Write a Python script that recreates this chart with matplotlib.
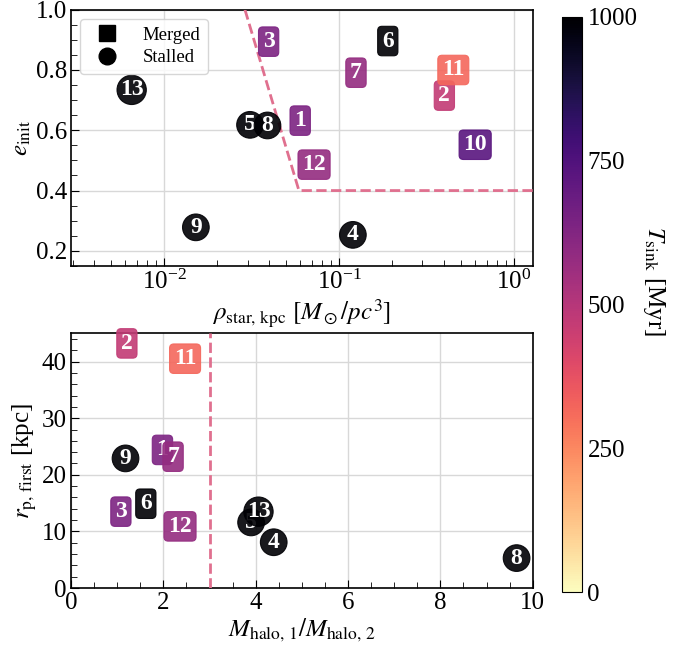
import numpy as np
import matplotlib
matplotlib.use("Agg")
import matplotlib.pyplot as plt
from matplotlib.lines import Line2D

plt.rcParams['font.family'] = 'serif'
plt.rcParams['font.serif'] = ['Liberation Serif', 'DejaVu Serif']
plt.rcParams['mathtext.fontset'] = 'stix'

# runs 1..13
ids = [1, 2, 3, 4, 5, 6, 7, 8, 9, 10, 11, 12, 13]
merged = [True, True, True, False, False, True, True, False, False, True, True, True, False]
tsink = [640, 470, 640, 1000, 1000, 1000, 580, 1000, 1000, 730, 320, 580, 1000]

rho = [0.060, 0.40, 0.0396, 0.12, 0.031, 0.19, 0.125, 0.039, 0.0152, 0.60, 0.45, 0.072, 0.00653]
e_init = [0.632, 0.715, 0.894, 0.253, 0.618, 0.896, 0.791, 0.616, 0.278, 0.552, 0.80, 0.486, 0.734]

# run 10 not shown in the lower panel
mratio = [1.98, 1.21, 1.08, 4.39, 3.90, 1.62, 2.21, 9.65, 1.18, None, 2.47, 2.36, 4.06]
rp = [24.4, 43.2, 13.5, 8.1, 11.6, 14.9, 23.2, 5.3, 22.9, None, 40.5, 10.9, 13.5]

# dividing lines
cut_rho = [0.029, 0.059, 1.5]
cut_e = [1.0, 0.4, 0.4]
cut_q = 3.0

cmap = plt.get_cmap('magma_r')
norm = matplotlib.colors.Normalize(vmin=0, vmax=1000)
dash_col = '#e0708f'

fig = plt.figure(figsize=(6.83, 6.47), dpi=100)
ax1 = fig.add_axes([0.104, 0.589, 0.676, 0.396])
ax2 = fig.add_axes([0.104, 0.091, 0.676, 0.394])
cax = fig.add_axes([0.823, 0.085, 0.029, 0.889])


def label(ax, x, y, i, m, t):
    box = 'round,pad=0.18' if m else 'circle,pad=0.12'
    c = cmap(norm(t))
    ax.text(x, y, str(i), color='white', fontsize=17, fontweight='bold',
            ha='center', va='center', zorder=5,
            bbox=dict(boxstyle=box, fc=c, ec=c, alpha=0.9, lw=0.8))


for k in range(len(ids)):
    label(ax1, rho[k], e_init[k], ids[k], merged[k], tsink[k])
    if mratio[k] is not None:
        label(ax2, mratio[k], rp[k], ids[k], merged[k], tsink[k])

ax1.plot(cut_rho, cut_e, '--', color=dash_col, lw=2, zorder=3)
ax2.axvline(cut_q, ls='--', color=dash_col, lw=2, zorder=3)

ax1.set_xscale('log')
ax1.set_xlim(0.00294, 1.28)
ax1.set_ylim(0.15, 1.0)
ax1.set_yticks([0.2, 0.4, 0.6, 0.8, 1.0])
ax1.yaxis.set_minor_locator(matplotlib.ticker.MultipleLocator(0.05))
ax1.set_xlabel(r'$\rho_{\rm star,\,kpc}\ [M_\odot/pc^3]$', fontsize=18, labelpad=2)
ax1.set_ylabel(r'$e_{\rm init}$', fontsize=18, labelpad=2)

ax2.set_xlim(0, 10)
ax2.set_ylim(0, 45)
ax2.set_xticks([0, 2, 4, 6, 8, 10])
ax2.set_yticks([0, 10, 20, 30, 40])
ax2.xaxis.set_minor_locator(matplotlib.ticker.MultipleLocator(0.5))
ax2.yaxis.set_minor_locator(matplotlib.ticker.MultipleLocator(2))
ax2.set_xlabel(r'$M_{\rm halo,\,1}/M_{\rm halo,\,2}$', fontsize=18, labelpad=2)
ax2.set_ylabel(r'$r_{\rm p,\,first}$ [kpc]', fontsize=18, labelpad=2)

for ax in [ax1, ax2]:
    ax.grid(True, color='#d8d8d8', lw=1, zorder=0)
    ax.set_axisbelow(True)
    ax.tick_params(which='both', direction='in', labelsize=18, pad=3)
    ax.tick_params(which='major', length=6)
    ax.tick_params(which='minor', length=4)
    for s in ax.spines.values():
        s.set_linewidth(1.2)

handles = [Line2D([], [], marker='s', color='k', ls='', ms=11),
           Line2D([], [], marker='o', color='k', ls='', ms=12)]
ax1.legend(handles, ['Merged', 'Stalled'], loc='upper left', fontsize=13.5,
           framealpha=0.8, handletextpad=0.9, borderpad=0.4, labelspacing=0.3)

sm = matplotlib.cm.ScalarMappable(norm=norm, cmap=cmap)
cb = fig.colorbar(sm, cax=cax, ticks=[0, 250, 500, 750, 1000])
cb.ax.tick_params(labelsize=18, length=0, pad=4)
cb.set_label(r'$T_{\rm sink}$ [Myr]', fontsize=18, rotation=270, labelpad=26)
cb.ax.yaxis.set_label_coords(5.3, 0.54)

fig.savefig('out.png', dpi=100)
